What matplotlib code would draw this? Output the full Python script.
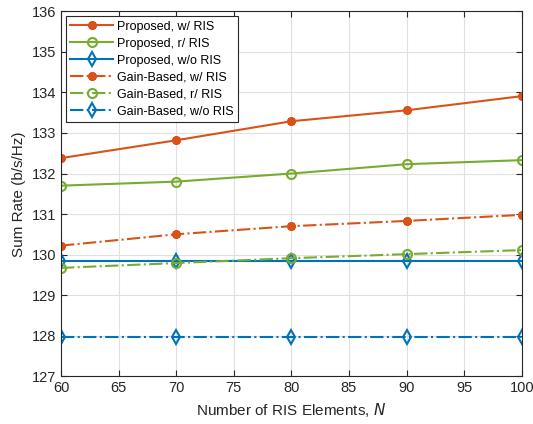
import matplotlib
matplotlib.use('Agg')
import matplotlib.pyplot as plt

# data
N = [60, 70, 80, 90, 100]
prop_w = [132.38, 132.82, 133.29, 133.56, 133.91]
prop_r = [131.70, 131.80, 132.00, 132.23, 132.33]
prop_wo = [129.85, 129.85, 129.85, 129.85, 129.85]
gain_w = [130.22, 130.50, 130.70, 130.83, 130.98]
gain_r = [129.67, 129.79, 129.91, 130.01, 130.11]
gain_wo = [127.97, 127.97, 127.97, 127.97, 127.97]

labels = ['Proposed, w/ RIS', 'Proposed, r/ RIS', 'Proposed, w/o RIS',
          'Gain-Based, w/ RIS', 'Gain-Based, r/ RIS', 'Gain-Based, w/o RIS']

c_or = '#D95319'
c_gr = '#77AC30'
c_bl = '#0072BD'

plt.rcParams['font.family'] = ['Liberation Sans', 'DejaVu Sans']

fig = plt.figure(figsize=(5.33, 4.24), dpi=100)
ax = fig.add_axes([0.1144, 0.113, 0.8646, 0.86])

star = (8, 2, 0)
ax.plot(N, prop_w, '-', color=c_or, lw=1.5, marker=star, ms=6.2, mew=2.0, label=labels[0])
ax.plot(N, prop_r, '-', color=c_gr, lw=1.5, marker='o', ms=6.5, mfc='none', mew=1.5, label=labels[1])
ax.plot(N, prop_wo, '-', color=c_bl, lw=1.5, marker='d', ms=7, mfc='none', mew=1.5, label=labels[2])
ax.plot(N, gain_w, '-.', color=c_or, lw=1.5, marker=star, ms=6.2, mew=2.0, label=labels[3])
ax.plot(N, gain_r, '-.', color=c_gr, lw=1.5, marker='o', ms=6.5, mfc='none', mew=1.5, label=labels[4])
ax.plot(N, gain_wo, '-.', color=c_bl, lw=1.5, marker='d', ms=7, mfc='none', mew=1.5, label=labels[5])

ax.set_xlim(60, 100)
ax.set_ylim(127, 136)
ax.set_xticks(range(60, 101, 5))
ax.set_yticks(range(127, 137))
ax.grid(True, color='#e0e0e0', lw=0.8)
ax.set_axisbelow(True)
ax.tick_params(direction='in', length=4, labelsize=10.5, colors='#262626', top=True, right=True)
for s in ax.spines.values():
    s.set_color('#262626')
    s.set_linewidth(0.8)

ax.set_xlabel('Number of RIS Elements, $\\it{N}$', fontsize=11, color='#262626')
ax.set_ylabel('Sum Rate (b/s/Hz)', fontsize=11, color='#262626')

leg = ax.legend(loc='upper left', fontsize=9, fancybox=False, framealpha=1,
                edgecolor='#262626', borderpad=0.35, labelspacing=0.4,
                handlelength=3.4, handletextpad=0.35, borderaxespad=0.4)
leg.get_frame().set_linewidth(0.8)

fig.savefig('out.png', dpi=100)
